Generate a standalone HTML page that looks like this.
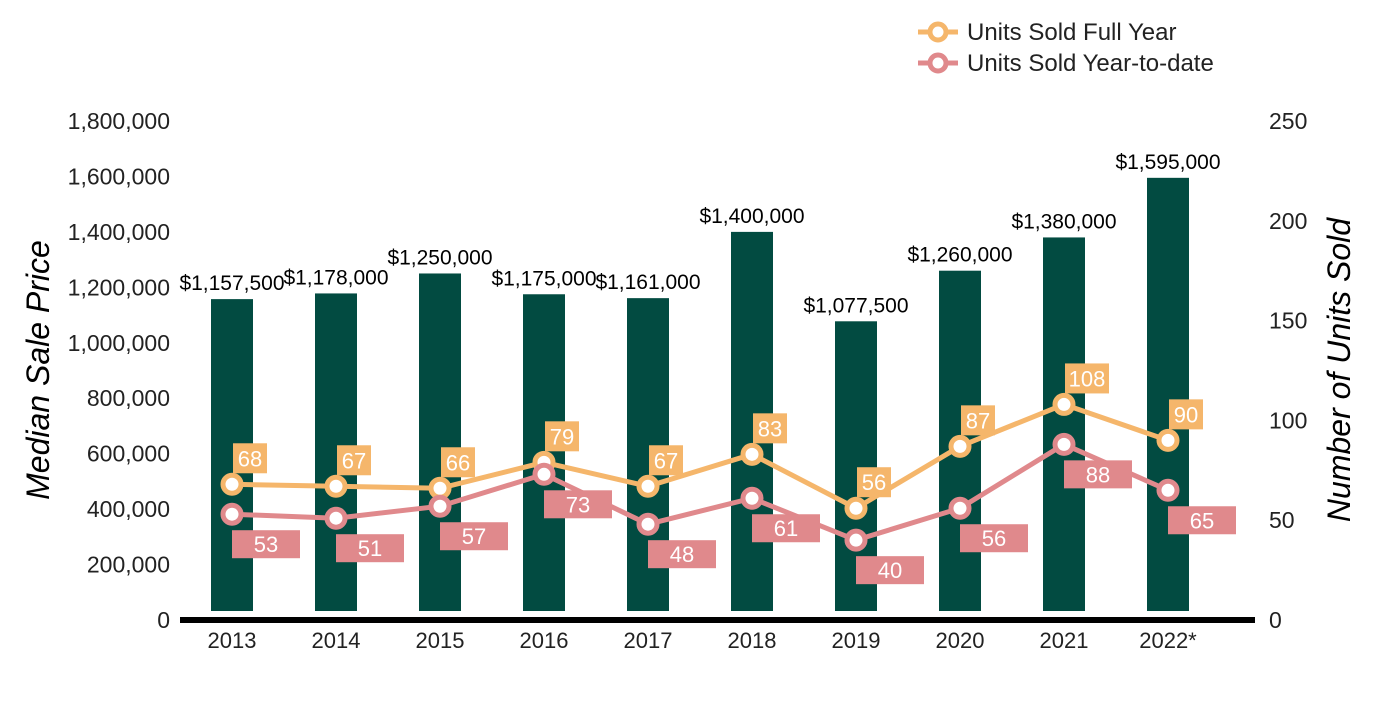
<!DOCTYPE html>
<html><head><meta charset="utf-8"><style>
body{margin:0;background:#fff;font-family:"Liberation Sans",Arial,sans-serif}
svg text{font-family:"Liberation Sans",Arial,sans-serif}
</style></head><body>
<svg id="c" width="1400" height="700" xmlns="http://www.w3.org/2000/svg"></svg>
<script>
const categories=["2013","2014","2015","2016","2017","2018","2019","2020","2021","2022*"];
const prices=[1157500,1178000,1250000,1175000,1161000,1400000,1077500,1260000,1380000,1595000];
const priceLabels=["$1,157,500","$1,178,000","$1,250,000","$1,175,000","$1,161,000","$1,400,000","$1,077,500","$1,260,000","$1,380,000","$1,595,000"];
const fullYear=[68,67,66,79,67,83,56,87,108,90];
const ytd=[53,51,57,73,48,61,40,56,88,65];
const leftTicks=[0,200000,400000,600000,800000,1000000,1200000,1400000,1600000,1800000];
const rightTicks=[0,50,100,150,200,250];

const svg=document.getElementById('c');
const NS="http://www.w3.org/2000/svg";
const y0=620,yTop=121;
const yL=v=>y0-v/1800000*(y0-yTop);
const yR=v=>y0-v/250*(y0-yTop);
const xC=i=>232+i*104;
function mk(t,a,txt){const e=document.createElementNS(NS,t);for(const k in a)e.setAttribute(k,a[k]);if(txt!==undefined)e.textContent=txt;svg.appendChild(e);return e;}
const BAR="#024B41",OR="#F5B66B",PK="#E0898C";

leftTicks.forEach(v=>{const e=mk('text',{x:170,y:yL(v)+8,'text-anchor':'end','font-size':23,fill:'#222'},v.toLocaleString('en-US'));

});
rightTicks.forEach(v=>{const e=mk('text',{x:1269,y:yR(v)+8,'font-size':23,fill:'#222'},String(v));

});
let t=mk('text',{x:49,y:370,'font-size':32,'font-style':'italic',fill:'#000','text-anchor':'middle',transform:'rotate(-90 49 370)'},'Median Sale Price');


t=mk('text',{x:1350,y:370,'font-size':32,'font-style':'italic',fill:'#000','text-anchor':'middle',transform:'rotate(-90 1350 370)'},'Number of Units Sold');



prices.forEach((v,i)=>{
 const top=yL(v);
 const b=mk('rect',{x:xC(i)-21,y:top,width:42,height:611-top,fill:BAR});
 
 
 const l=mk('text',{x:xC(i),y:top-9,'text-anchor':'middle','font-size':21,fill:'#000'},priceLabels[i]);
 
 
 const c=mk('text',{x:xC(i),y:648,'text-anchor':'middle','font-size':22,fill:'#222'},categories[i]);
 
 
});
const ax=mk('rect',{x:180,y:617,width:1075,height:6,fill:'#000'});



function series(vals,col,name){
 const p=mk('polyline',{points:vals.map((v,i)=>xC(i)+','+yR(v)).join(' '),fill:'none',stroke:col,'stroke-width':5});
 
 
}
series(fullYear,OR,'full-year');
series(ytd,PK,'ytd');
function pts(vals,col,name,above){
 vals.forEach((v,i)=>{
  const x=xC(i),y=yR(v);
  const c=mk('circle',{cx:x,cy:y,r:9,fill:'#fff',stroke:col,'stroke-width':5});
  
  
  let bx,by,w,h;
  const s=String(v);
  if(above){w=s.length>2?44:34;h=30;bx=x+1;by=y-41;}else{w=68;h=28;bx=x;by=y+16;}
  const r=mk('rect',{x:bx,y:by,width:w,height:h,fill:col});
  
  
  const tx=mk('text',{x:bx+w/2,y:by+h/2+8,'text-anchor':'middle','font-size':22,fill:'#fff'},s);
  
  
 });
}
pts(fullYear,OR,'full-year',true);
pts(ytd,PK,'ytd',false);

[[OR,'Units Sold Full Year',32,'legend-full-year'],[PK,'Units Sold Year-to-date',63,'legend-ytd']].forEach(([col,txt,y,n])=>{
 const l=mk('line',{x1:918,y1:y,x2:958,y2:y,stroke:col,'stroke-width':5});
 
 
 const c=mk('circle',{cx:938,cy:y,r:8,fill:'#fff',stroke:col,'stroke-width':5});
 
 
 const tx=mk('text',{x:967,y:y+8,'font-size':24,fill:'#222'},txt);
 
 
});
</script>
</body></html>
